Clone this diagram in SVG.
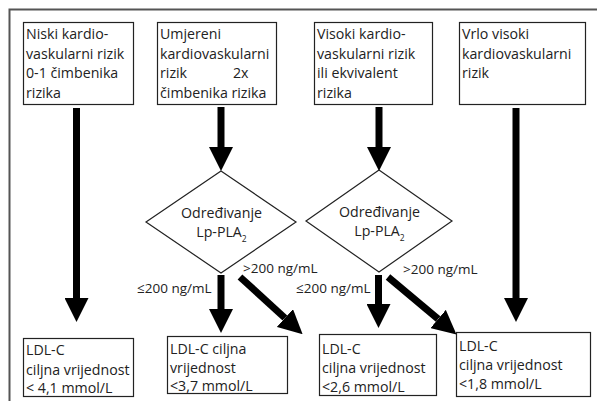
<svg xmlns="http://www.w3.org/2000/svg" width="597" height="401" viewBox="0 0 597 401">
<style>
.box{fill:#fff;stroke:#222;stroke-width:1.2}
.t{font-family:"Open Sans","Liberation Sans",sans-serif;font-size:14.2px;fill:#222}
.l{font-family:"Open Sans","Liberation Sans",sans-serif;font-size:13.5px;fill:#222}
.c{text-anchor:middle}
.sh{stroke:#000;stroke-width:7;fill:none}
</style>
<defs>
<marker id="ah" markerUnits="userSpaceOnUse" markerWidth="24" markerHeight="24" refX="0" refY="11" orient="auto" viewBox="0 0 22 22">
<path d="M0,0 L22,11 L0,22 Z" fill="#000"/>
</marker>
</defs>
<rect x="9.5" y="9.5" width="620" height="420" fill="#fff" stroke="#555" stroke-width="2"/>
<g id="n1"><rect class="box" x="23.5" y="22.5" width="110" height="82"/>
<text class="t" x="26"><tspan x="26" y="39">Niski kardio-</tspan><tspan x="26" y="58.5">vaskularni rizik</tspan><tspan x="26" y="78">0-1  čimbenika</tspan><tspan x="26" y="97.5">rizika</tspan></text></g>
<g id="n2"><rect class="box" x="157.5" y="22.5" width="119" height="82"/>
<text class="t"><tspan x="160" y="39">Umjereni</tspan><tspan x="160" y="58.5">kardiovaskularni</tspan><tspan x="160" y="78">rizik</tspan><tspan x="233" y="78">2x</tspan><tspan x="160" y="97.5">čimbenika rizika</tspan></text></g>
<g id="n3"><rect class="box" x="314.5" y="22.5" width="118" height="82"/>
<text class="t"><tspan x="317" y="39">Visoki kardio-</tspan><tspan x="317" y="58.5">vaskularni rizik</tspan><tspan x="317" y="78">ili ekvivalent</tspan><tspan x="317" y="97.5">rizika</tspan></text></g>
<g id="n4"><rect class="box" x="459.5" y="22.5" width="126" height="82"/>
<text class="t"><tspan x="462" y="39">Vrlo visoki</tspan><tspan x="462" y="58.5">kardiovaskularni</tspan><tspan x="462" y="78">rizik</tspan></text></g>
<g id="d1"><polygon class="box" points="221,171 296,222 221,273 146,222"/>
<text class="t c" x="221.5" y="218">Određivanje</text>
<text class="t c" x="221.5" y="237">Lp-PLA<tspan font-size="8.5" dy="5">2</tspan></text></g>
<g id="d2"><polygon class="box" points="379,170 452,221 379,272 306,221"/>
<text class="t c" x="379.5" y="217">Određivanje</text>
<text class="t c" x="379.5" y="236">Lp-PLA<tspan font-size="8.5" dy="5">2</tspan></text></g>
<g id="b1"><rect class="box" x="23.5" y="338.5" width="110" height="58"/>
<text class="t"><tspan x="26" y="355">LDL-C</tspan><tspan x="26" y="374.5">ciljna vrijednost</tspan><tspan x="26" y="393">&lt; 4,1 mmol/L</tspan></text></g>
<g id="b2"><rect class="box" x="167.5" y="336.5" width="120" height="57"/>
<text class="t"><tspan x="170" y="354">LDL-C ciljna</tspan><tspan x="170" y="372.5">vrijednost</tspan><tspan x="170" y="390.5">&lt;3,7 mmol/L</tspan></text></g>
<g id="b3"><rect class="box" x="319.5" y="334.5" width="117" height="61"/>
<text class="t"><tspan x="322" y="354">LDL-C</tspan><tspan x="322" y="373">ciljna vrijednost</tspan><tspan x="322" y="391.5">&lt;2,6 mmol/L</tspan></text></g>
<g id="b4"><rect class="box" x="456.5" y="332.5" width="134" height="64"/>
<text class="t"><tspan x="459" y="351">LDL-C</tspan><tspan x="459" y="370">ciljna vrijednost</tspan><tspan x="459" y="389">&lt;1,8 mmol/L</tspan></text></g>
<g id="connectors">
<line class="sh" x1="76.5" y1="108" x2="76.5" y2="298" marker-end="url(#ah)"/>
<line class="sh" x1="221" y1="107" x2="221" y2="147" marker-end="url(#ah)"/>
<line class="sh" x1="379" y1="107" x2="379" y2="147" marker-end="url(#ah)"/>
<line class="sh" x1="516" y1="108" x2="516" y2="298" marker-end="url(#ah)"/>
<line class="sh" x1="221" y1="275" x2="221" y2="309" marker-end="url(#ah)"/>
<line class="sh" x1="378.5" y1="275" x2="378.5" y2="304" marker-end="url(#ah)"/>
<line class="sh" x1="240" y1="277" x2="284.9" y2="318" marker-end="url(#ah)"/>
<line class="sh" x1="388" y1="277" x2="438.1" y2="319" marker-end="url(#ah)"/>
<text class="l" x="243" y="273">&gt;200 ng/mL</text>
<text class="l" x="137" y="293">≤200 ng/mL</text>
<text class="l" x="403" y="274">&gt;200 ng/mL</text>
<text class="l" x="296" y="293">≤200 ng/mL</text>
</g>
</svg>
